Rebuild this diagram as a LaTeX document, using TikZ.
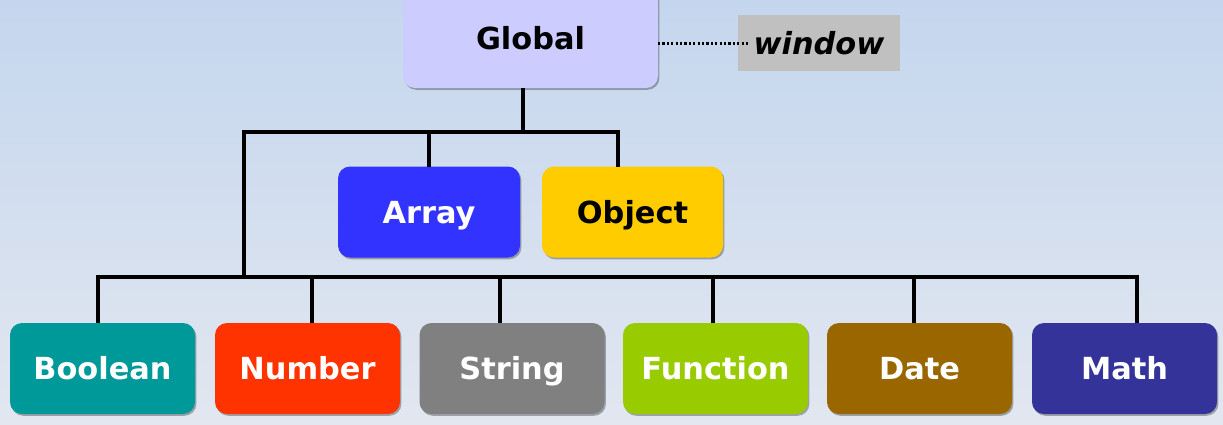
\documentclass[tikz,border=0pt]{standalone}
\usepackage{fontspec}
\setsansfont{DejaVu Sans}
\usetikzlibrary{shadows}

\definecolor{bgtop}{RGB}{196,214,238}
\definecolor{bgbot}{RGB}{226,231,240}
\definecolor{globfill}{RGB}{204,204,255}
\definecolor{winfill}{RGB}{192,192,192}
\definecolor{arrfill}{RGB}{51,51,255}
\definecolor{objfill}{RGB}{255,204,0}
\definecolor{boolfill}{RGB}{0,153,153}
\definecolor{numfill}{RGB}{255,51,0}
\definecolor{strfill}{RGB}{128,128,128}
\definecolor{funfill}{RGB}{153,204,0}
\definecolor{datefill}{RGB}{153,102,0}
\definecolor{mathfill}{RGB}{51,51,153}

\begin{document}
\begin{tikzpicture}[x=0.5pt,y=-0.5pt,inner sep=0pt,outer sep=0pt,
typebox/.style={rectangle,rounded corners=6pt,minimum width=92.5pt,minimum height=45.5pt,
  text=white,font=\sffamily\bfseries\fontsize{15.2}{18}\selectfont,text height=11pt,text depth=0pt,
  drop shadow={shadow xshift=0.7pt,shadow yshift=-0.9pt,opacity=0.3,fill=black}},
conn/.style={line width=1.6pt,line join=miter}]

\useasboundingbox (0,0) rectangle (1223,424);
\shade[top color=bgtop,bottom color=bgbot] (0,0) rectangle (1223,424);

\draw (530.5,34) node[typebox,fill=globfill,text=black,minimum width=127.5pt,minimum height=54pt,text height=15.5pt] (glob) {Global};
\draw (819,43) node[fill=winfill,minimum width=81pt,minimum height=28pt,text height=11pt,text depth=0pt,
  font=\sffamily\bfseries\itshape\fontsize{15.2}{18}\selectfont] (win) {window};

\draw (429,212) node[typebox,fill=arrfill,minimum width=91pt] (arr) {Array};
\draw (632.5,212) node[typebox,fill=objfill,text=black,minimum width=90.5pt] (obj) {Object};

\draw (102.5,368.5) node[typebox,fill=boolfill] (bool) {Boolean};
\draw (307.5,368.5) node[typebox,fill=numfill] (num) {Number};
\draw (512,368.5) node[typebox,fill=strfill] (str) {String};
\draw (715.5,368.5) node[typebox,fill=funfill] (fun) {Function};
\draw (919.5,368.5) node[typebox,fill=datefill] (date) {Date};
\draw (1124.5,368.5) node[typebox,fill=mathfill] (math) {Math};

\coordinate (tr) at (523,132);
\coordinate (ul) at (244,132);
\coordinate (ll) at (98,277);
\coordinate (lr) at (1137,277);

\draw[line width=1.5pt,dash pattern=on 1.1pt off 1.1pt] (glob.east |- win) -- ([xshift=6pt]win.west);

\draw[conn] (glob.south -| tr) -- (tr);
\draw[conn] (ul |- ll) -- (ul) -- (618,132) -- (obj.north -| 618,0);
\draw[conn] (arr.north) -- (arr.north |- ul);

\draw[conn] (bool.north -| ll) -- (ll) -- (lr) -- (math.north -| lr);
\foreach \n/\x in {num/312,str/500,fun/713,date/914}
  \draw[conn] (\n.north -| \x,0) -- (ll -| \x,0);
\end{tikzpicture}
\end{document}
